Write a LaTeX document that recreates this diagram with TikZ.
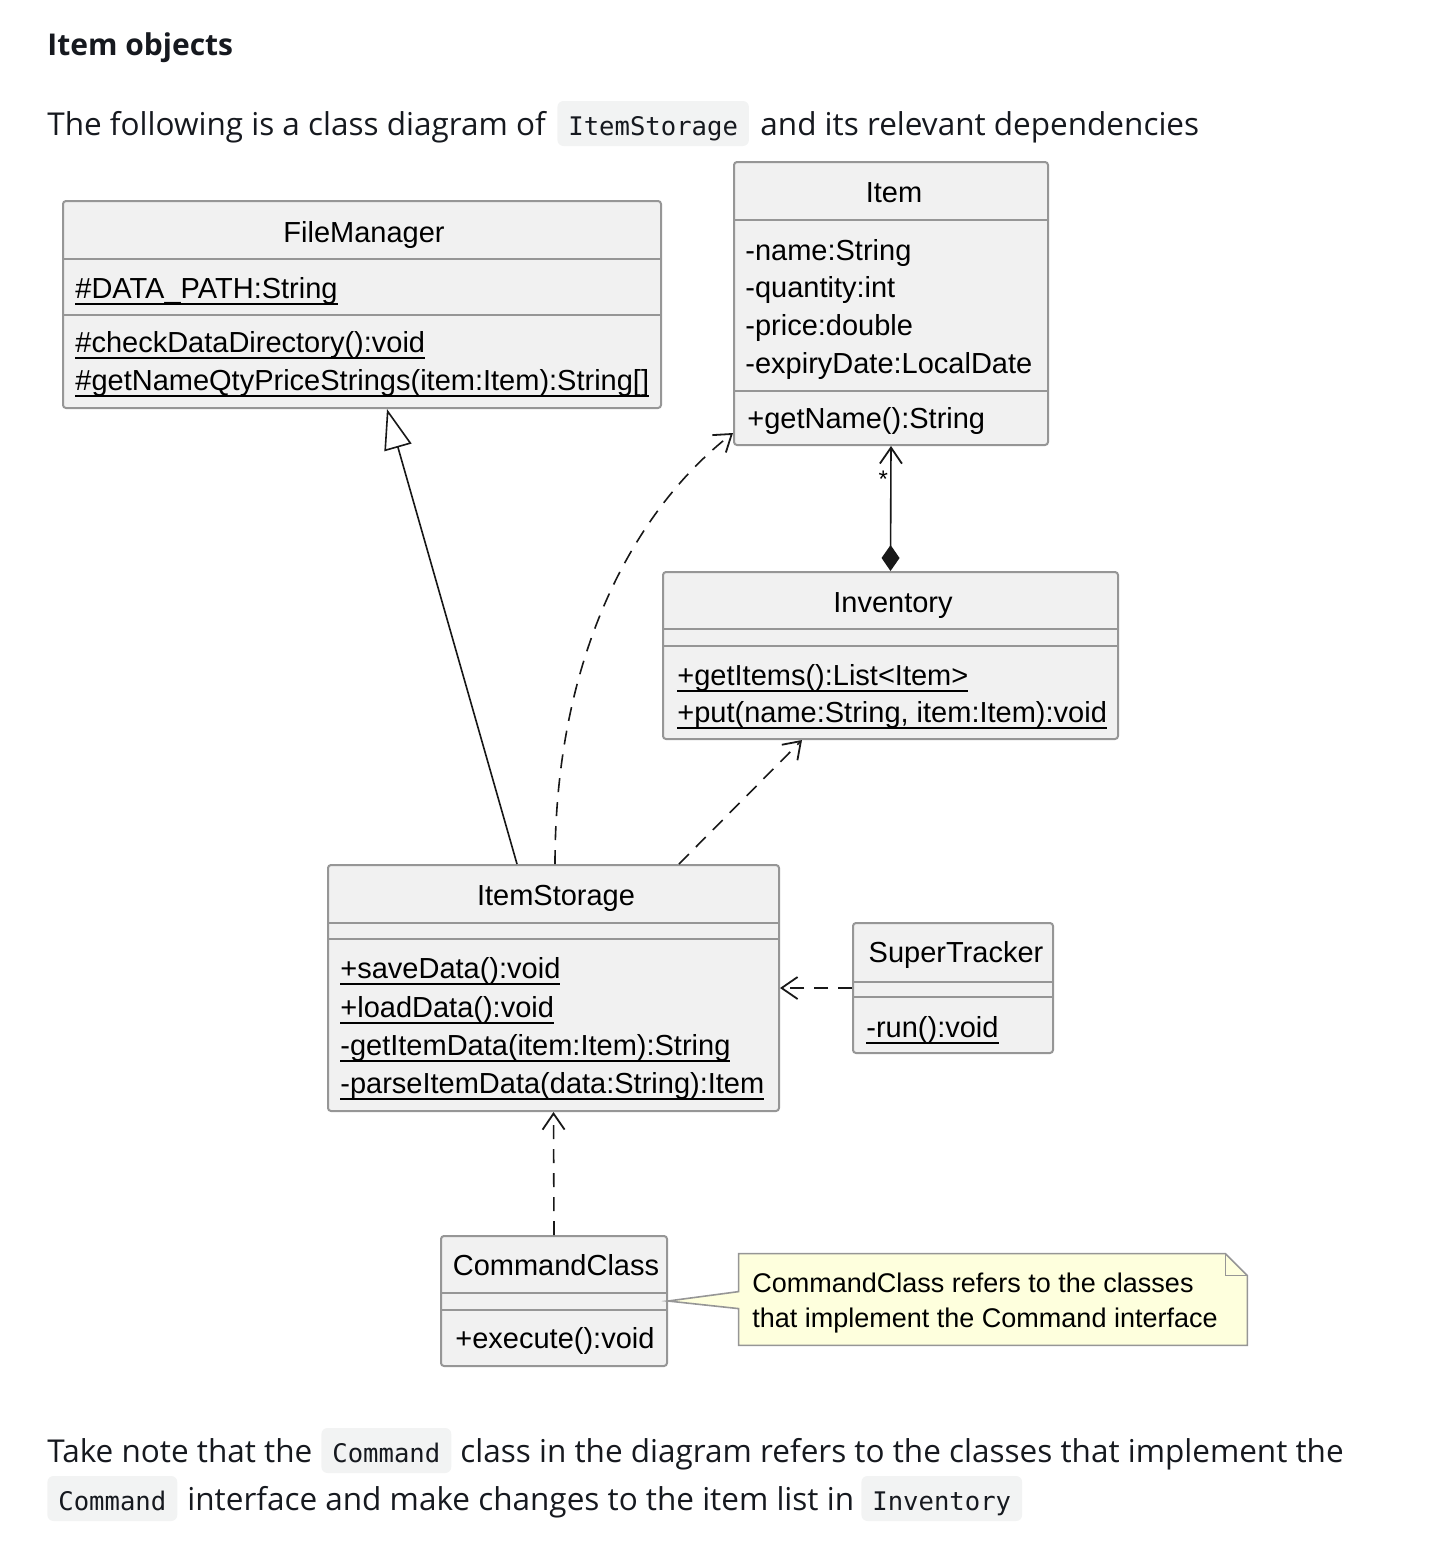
\documentclass[tikz,border=0pt]{standalone}
\usepackage{fontspec}
\setmainfont{Open Sans}
\setmonofont{DejaVu Sans Mono}
\newfontfamily\umlfont{Liberation Sans}
\usetikzlibrary{arrows.meta,positioning,calc,fit}
\definecolor{textdark}{RGB}{22,25,31}
\definecolor{codebg}{RGB}{242,243,243}
\definecolor{classfill}{RGB}{241,241,241}
\definecolor{classline}{RGB}{150,150,150}
\definecolor{notefill}{RGB}{254,255,221}
\definecolor{linkdark}{RGB}{24,24,24}
% underline for static members
\newcommand{\umlul}[1]{\setbox0\hbox{#1}\rlap{\rule[-3.6pt]{\wd0}{0.9pt}}\box0}
\tikzset{
  bodytext/.style={anchor=base west, inner sep=0pt, text=textdark, font=\fontsize{15.75}{18}\selectfont},
  codetext/.style={anchor=base west, fill=codebg, rounded corners=3pt, inner xsep=5.5pt, inner ysep=0pt,
    text height=17pt, text depth=5.5pt, text=textdark, font=\ttfamily\fontsize{12.8}{15}\selectfont},
  classbox/.style={draw=classline, fill=classfill, line width=1pt, rounded corners=1.5pt, inner sep=0pt},
  divider/.style={draw=classline, line width=1pt},
  classname/.style={anchor=base, inner sep=0pt, font=\umlfont\fontsize{14.5}{17}\selectfont},
  member/.style={anchor=base west, inner sep=0pt, font=\umlfont\fontsize{14.5}{17}\selectfont},
  notetext/.style={anchor=base west, inner sep=0pt, font=\umlfont\fontsize{13.5}{16}\selectfont},
  noteline/.style={draw=classline, fill=notefill, line width=0.8pt},
  link/.style={draw=linkdark, line width=0.8pt},
  depend/.style={link, dash pattern=on 7pt off 5pt, -{Straight Barb[length=8pt,width=11pt,line width=0.9pt]}},
  inherit/.style={link, -{Triangle[open,length=20pt,width=14pt,fill=white,line width=0.8pt]}},
  compose/.style={link, {Diamond[length=13pt,width=9pt]}-{Straight Barb[length=8pt,width=11pt,line width=0.9pt]}},
}
\begin{document}
\begin{tikzpicture}[x=0.5pt,y=-0.5pt]
\useasboundingbox (0,0) rectangle (1446,1564);

% Page text above the diagram
\node[bodytext, font=\bfseries\fontsize{15}{18}\selectfont] (heading) at (47,55) {Item objects};
\node[bodytext] (intro) at (47,135) {The following is a class diagram of};
\node[codetext] (introcode) at (557,135) {ItemStorage};
\node[bodytext] (introend) at (760,135) {and its relevant dependencies};

% FileManager
\node[classbox, fit={(63,201) (661,408)}] (fm) {};
\draw[divider] (63,259) -- (661,259);
\draw[divider] (63,315) -- (661,315);
\node[classname] (fm-name) at (364,242) {FileManager};
\node[member] (fm-attr) at (75,298) {\umlul{\#DATA\_PATH:String}};
\node[member] (fm-op1) at (75,352) {\umlul{\#checkDataDirectory():void}};
\node[member] (fm-op2) at (75,390) {\umlul{\#getNameQtyPriceStrings(item:Item):String[]}};

% Item
\node[classbox, fit={(734,162) (1048,445)}] (item) {};
\draw[divider] (734,220) -- (1048,220);
\draw[divider] (734,391) -- (1048,391);
\node[classname] (item-name) at (894,202) {Item};
\node[member] (item-attr1) at (745,260) {-name:String};
\node[member] (item-attr2) at (745,297) {-quantity:int};
\node[member] (item-attr3) at (745,335) {-price:double};
\node[member] (item-attr4) at (745,373) {-expiryDate:LocalDate};
\node[member] (item-op1) at (747,428) {+getName():String};

% Inventory
\node[classbox, fit={(663,572) (1118,739)}] (inv) {};
\draw[divider] (663,629) -- (1118,629);
\draw[divider] (663,646) -- (1118,646);
\node[classname] (inv-name) at (893,612) {Inventory};
\node[member] (inv-op1) at (677,685) {\umlul{+getItems():List<Item>}};
\node[member] (inv-op2) at (677,722) {\umlul{+put(name:String, item:Item):void}};

% ItemStorage
\node[classbox, fit={(328,865) (779,1111)}] (storage) {};
\draw[divider] (328,923) -- (779,923);
\draw[divider] (328,939) -- (779,939);
\node[classname] (storage-name) at (556,905) {ItemStorage};
\node[member] (storage-op1) at (340,978) {\umlul{+saveData():void}};
\node[member] (storage-op2) at (340,1017) {\umlul{+loadData():void}};
\node[member] (storage-op3) at (340,1055) {\umlul{-getItemData(item:Item):String}};
\node[member] (storage-op4) at (340,1093) {\umlul{-parseItemData(data:String):Item}};

% SuperTracker
\node[classbox, fit={(853,923) (1053,1053)}] (tracker) {};
\draw[divider] (853,982) -- (1053,982);
\draw[divider] (853,997) -- (1053,997);
\node[classname] (tracker-name) at (956,962) {SuperTracker};
\node[member] (tracker-op1) at (866,1037) {\umlul{-run():void}};

% CommandClass
\node[classbox, fit={(441,1236) (667,1366)}] (command) {};
\draw[divider] (441,1293) -- (667,1293);
\draw[divider] (441,1310) -- (667,1310);
\node[classname] (command-name) at (556,1275) {CommandClass};
\node[member] (command-op1) at (455,1348) {+execute():void};

% Note attached to CommandClass
\node[inner sep=0pt, fit={(739,1254) (1247,1345)}] (note) {};
\draw[noteline] (note.north west) -- ($(note.north east)+(-22,0)$) -- ($(note.north east)+(0,22)$)
  -- (note.south east) -- (note.south west) -- ($(note.north west)+(0,55)$)
  -- (command.east) -- ($(note.north west)+(0,38)$) -- cycle;
\draw[noteline, fill=none] ($(note.north east)+(-22,0)$) -- ($(note.north east)+(-22,22)$) -- ($(note.north east)+(0,22)$);
\node[notetext] (note-line1) at (752,1292) {CommandClass refers to the classes};
\node[notetext] (note-line2) at (752,1327) {that implement the Command interface};

% Relations
\draw[inherit] ($(storage.north west)+(190,0)$) -- ($(fm.south west)+(325,0)$);
\draw[depend] ($(storage.north west)+(228,0)$) .. controls ($(storage.north west)+(228,-215)$)
  and ($(item.south west)+(-94,60)$) .. ($(item.south west)+(0,-13)$);
\draw[depend] ($(storage.north west)+(352,0)$) -- ($(inv.south west)+(140,0)$);
\draw[compose] (inv.north) -- node[pos=0.67, anchor=base east, inner sep=1pt, font=\umlfont\fontsize{12}{14}\selectfont] (star) {*} (item.south);
\draw[depend] (tracker.west) -- (storage.east);
\draw[depend] (command.north) -- (storage.south);

% Page text below the diagram
\node[bodytext] (note1a) at (47,1462) {Take note that the};
\node[codetext] (note1code) at (321,1462) {Command};
\node[bodytext] (note1b) at (460,1462) {class in the diagram refers to the classes that implement the};
\node[codetext] (note2code) at (47,1510) {Command};
\node[bodytext] (note2b) at (187,1510) {interface and make changes to the item list in};
\node[codetext] (note2code2) at (861,1510) {Inventory};
\end{tikzpicture}
\end{document}
